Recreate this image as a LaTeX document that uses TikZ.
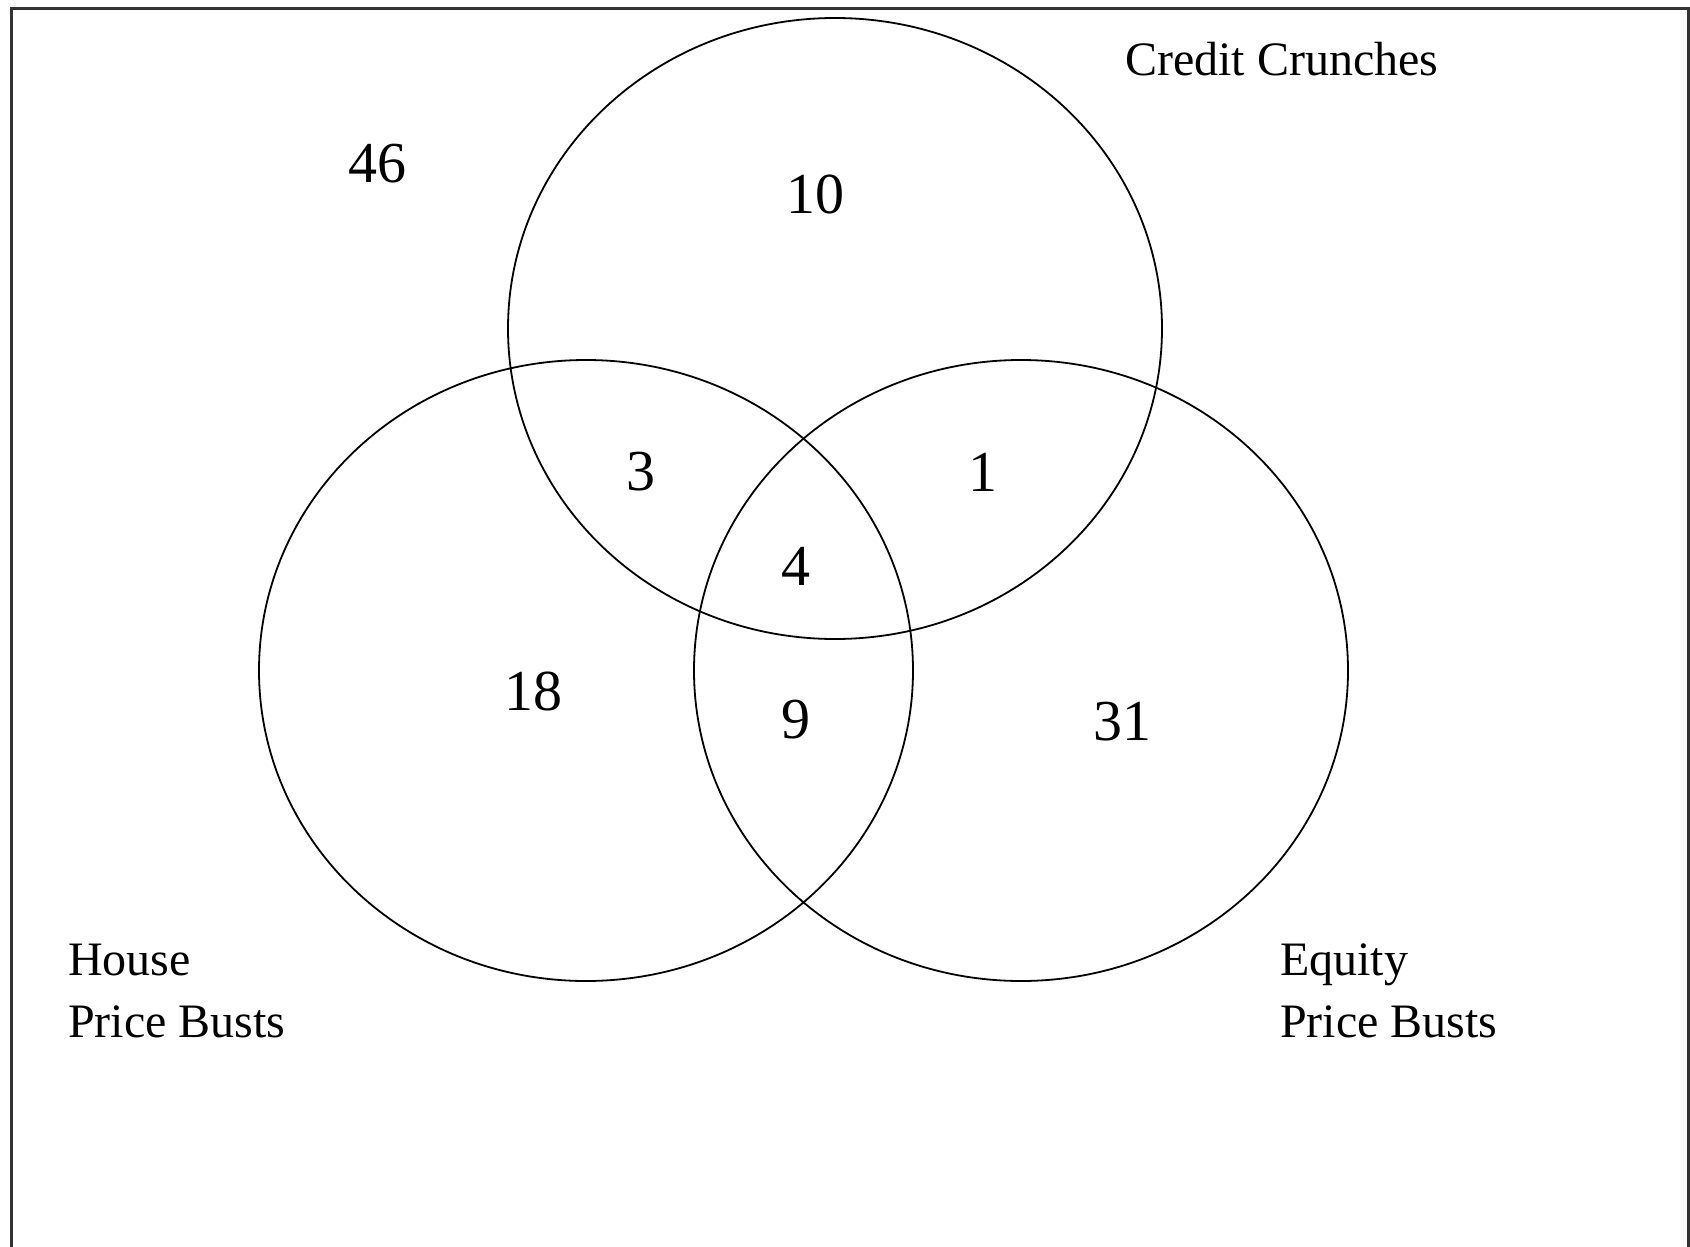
\documentclass[tikz,border=0pt]{standalone}
\usepackage{fontspec}
\setmainfont{Liberation Serif}
\usetikzlibrary{shapes.geometric}
\begin{document}
\begin{tikzpicture}[x=1pt,y=-1pt,
  setc/.style={draw=black, line width=1.8pt, ellipse, inner sep=0pt,
    minimum width=654pt, minimum height=621pt},
  num/.style={inner sep=0pt, font=\fontsize{58}{70}\selectfont},
  lab/.style={inner sep=0pt, anchor=base west, font=\fontsize{48}{60}\selectfont}]
\useasboundingbox (0,0) rectangle (1690,1247);
% frame (open at the bottom)
\coordinate (fbl) at (11,1247);
\coordinate (ftl) at (11,9);
\coordinate (ftr) at (1688.5,9);
\coordinate (fbr) at (1688.5,1247);
\draw[line width=3pt, black!80] (fbl) -- (ftl) -- (ftr) -- (fbr);
% sets
\node[setc] (credit) at (835,328.5) {};
\node[setc] (house) at (586,670.5) {};
\node[setc] (equity) at (1021,670.5) {};
% counts
\node[num] (n46) at (377,164) {46};
\node[num] (n10) at (815,194) {10};
\node[num] (n3) at (641,472) {3};
\node[num] (n1) at (983,472) {1};
\node[num] (n4) at (796,566) {4};
\node[num] (n18) at (533,691) {18};
\node[num] (n9) at (796,720) {9};
\node[num] (n31) at (1122,722) {31};
% labels
\node[lab] (lcredit) at (1125,75) {Credit Crunches};
\node[lab] (lhouse1) at (68,975) {House};
\node[lab] (lhouse2) at (68,1037) {Price Busts};
\node[lab] (lequity1) at (1280,975) {Equity};
\node[lab] (lequity2) at (1280,1037) {Price Busts};
\end{tikzpicture}
\end{document}
